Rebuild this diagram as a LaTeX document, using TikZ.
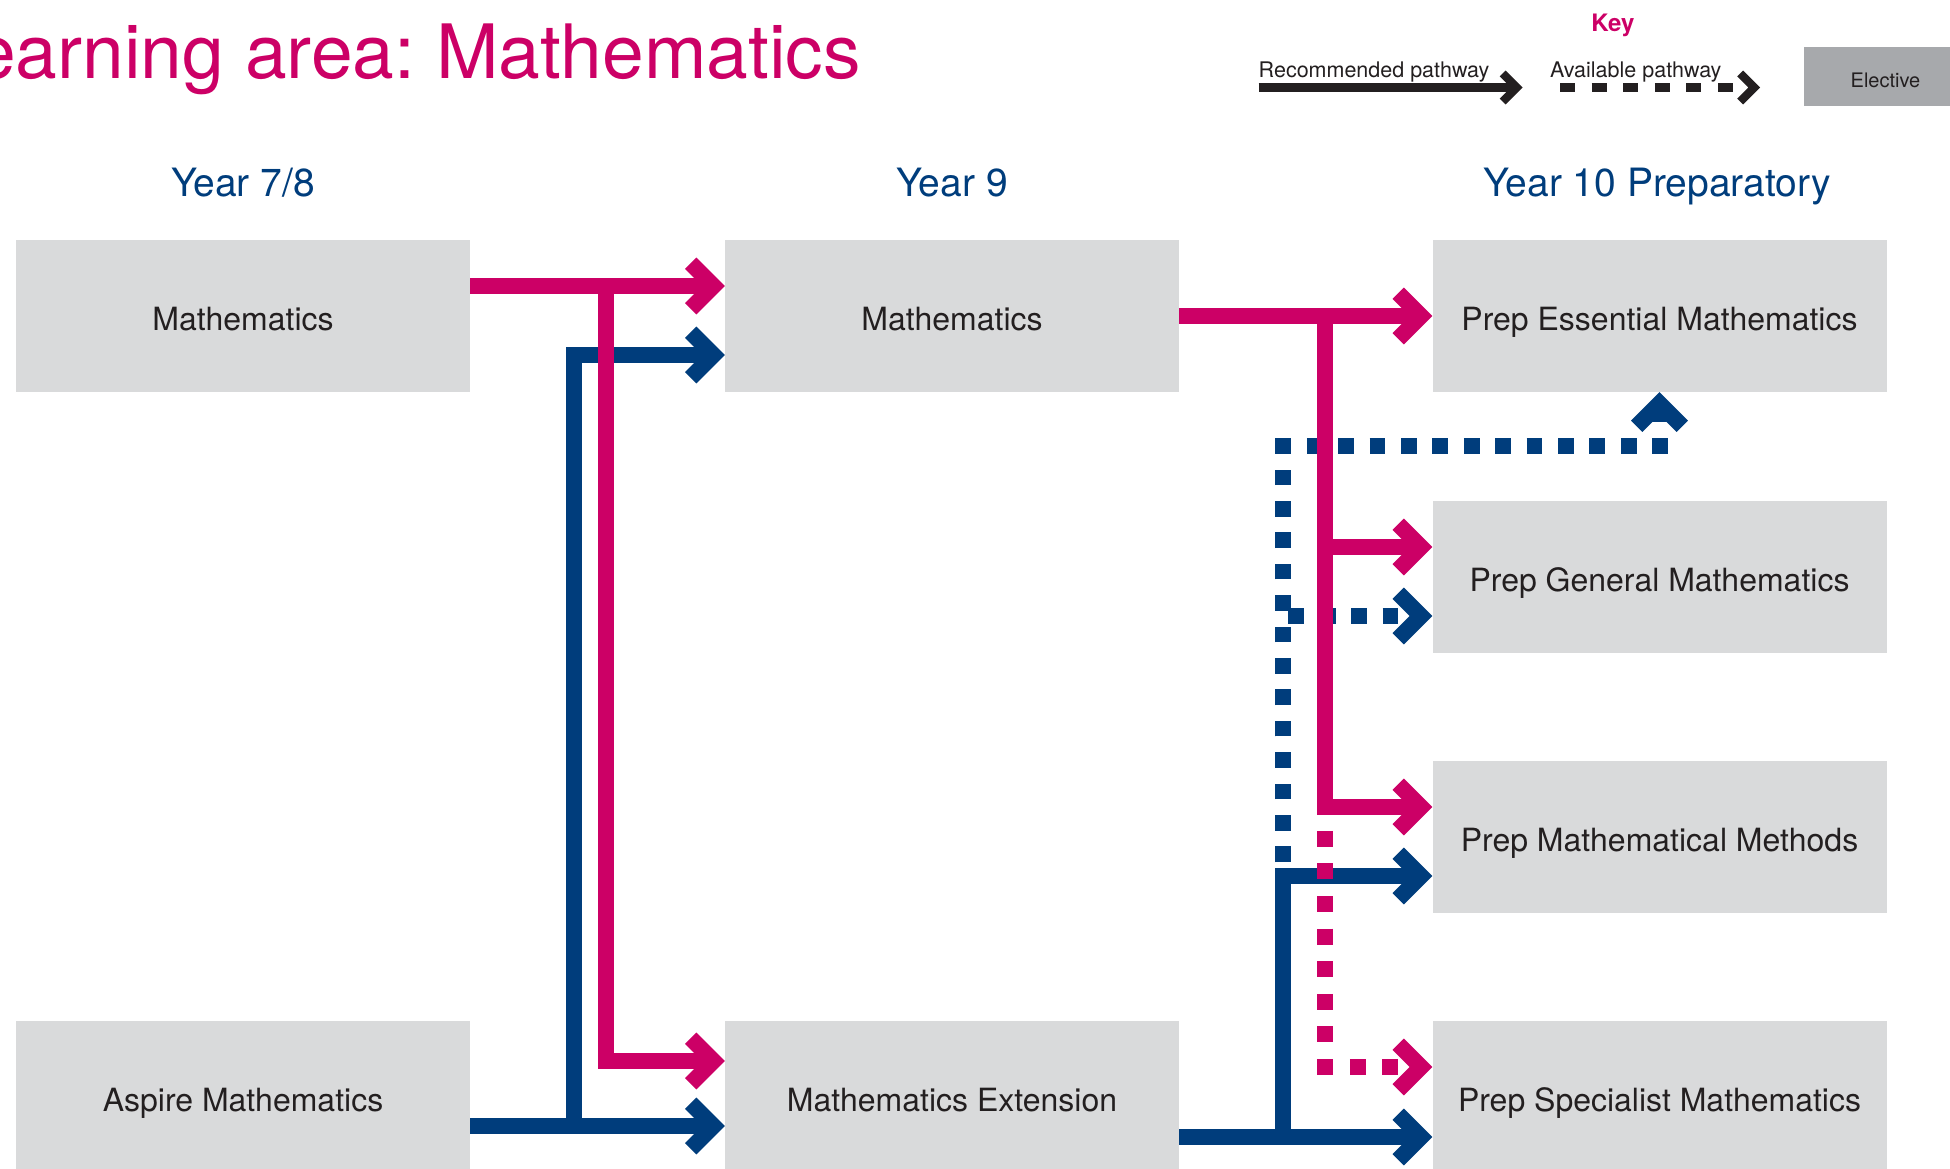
\documentclass[tikz,border=0pt]{standalone}
\usepackage{fontspec}
\setmainfont{TeX Gyre Heros}
\usepackage{tikz}
\usetikzlibrary{arrows.meta}
\definecolor{mpink}{HTML}{CC0066}
\definecolor{mblue}{HTML}{003D7C}
\definecolor{mtext}{HTML}{231F20}
\definecolor{mbox}{HTML}{D9DADB}
\definecolor{melect}{HTML}{A7A9AC}
\tikzset{course/.style={rectangle, fill=mbox, text=mtext, minimum width=454pt, minimum height=152pt, inner sep=0pt, text height=30.5pt, text depth=0.6pt, font=\fontsize{32}{38}\selectfont}}
\tikzset{heading/.style={anchor=base, inner sep=0pt, text=mblue, font=\fontsize{39}{45}\selectfont}}
\tikzset{keytext/.style={anchor=base west, inner sep=0pt, text=mtext, font=\fontsize{21.5}{25}\selectfont}}
\tikzset{pathway/.style={line width=16pt, -{Straight Barb[length=22.8pt, width=45.6pt, sharp]}}}
\tikzset{dotted pathway/.style={pathway, dash pattern=on 15.7pt off 15.7pt}}

\begin{document}
\frenchspacing
\begin{tikzpicture}[x=1pt,y=-1pt]
  \useasboundingbox (0,0) rectangle (1950,1168);
  % title and key
  \node[anchor=base east, inner sep=0pt, text=mpink, font=\fontsize{75}{80}\selectfont] (title) at (861,78) {Learning area: Mathematics};
  \node[anchor=base, inner sep=0pt, text=mpink, font=\bfseries\fontsize{24}{28}\selectfont] (key) at (1613,31.7) {Key};
  \node[keytext] (rec) at (1258.5,77) {Recommended pathway};
  \node[keytext] (avl) at (1550,77) {Available pathway};
  \node[fill=melect, text=mtext, inner sep=0pt, minimum width=163pt, minimum height=59pt, text height=21pt, text depth=0pt, font=\fontsize{20}{24}\selectfont] (elect) at (1885.5,76.5) {Elective};
  \draw[mtext, line width=8.3pt, -{Straight Barb[length=14pt, width=28pt, sharp]}] ([yshift=-10.5pt]rec.base west) -- ++(264,0);
  \draw[mtext, line width=8.3pt, dash pattern=on 15pt off 16.6pt, -{Straight Barb[length=14pt, width=28pt, sharp]}] ([xshift=10pt,yshift=-10.5pt]avl.base west) -- ++(200,0);

  % year headings
  \node[heading] (h78) at (243,196.7) {Year 7/8};
  \node[heading] (h9) at (952,196.7) {Year 9};
  \node[heading] (h10) at (1657,196.7) {Year 10 Preparatory};

  \foreach \x/\y/\lab/\txt in {
    243/316/m78/Mathematics,
    243/1097/asp/Aspire Mathematics,
    952/316/m9/Mathematics,
    952/1097/ext/Mathematics Extension,
    1659.5/316/ess/Prep Essential Mathematics,
    1659.5/577/gen/Prep General Mathematics,
    1659.5/837/meth/Prep Mathematical Methods,
    1659.5/1097/spec/Prep Specialist Mathematics%
  } {
    \node[course] (\lab) at (\x, \y) {\txt};
  }

  % blue pathways
  \begin{scope}[mblue]
    \draw[dotted pathway, dash phase=29.2pt] ([yshift=-40pt]ext.east) -- ++(104,0) -- ++(0,-691) -| (ess.south);
    \draw[dotted pathway, dash phase=29.2pt] ([yshift=-40pt]ext.east) -- ++(104,0) |- ([yshift=-39pt]gen.west);
    \draw[pathway] ([yshift=-40pt]ext.east) -- ++(104,0) |- ([yshift=-39pt]meth.west);
    \draw[pathway] ([yshift=-40pt]ext.east) -- ([yshift=-40pt]spec.west);
    \draw[pathway] ([yshift=-29pt]asp.east) -- ([yshift=-29pt]ext.west);
    \draw[pathway] ([yshift=-29pt]asp.east) -- ++(103.7,0) |- ([yshift=-39pt]m9.west);
  \end{scope}

  % pink pathways
  \begin{scope}[mpink]
    \draw[dotted pathway, dash pattern=on 16pt off 16.6pt, dash phase=23.8pt] (m9.east) -- ++(146,0) |- ([yshift=30pt]spec.west);
    \draw[pathway] (m9.east) -- (ess.west);
    \foreach \v in {gen, meth} {
      \draw[pathway] (m9.east) -- ++(146,0) |- ([yshift=30pt]\v.west);
    }
    \draw[pathway] ([yshift=30pt]m78.east) -- ([yshift=30pt]m9.west);
    \draw[pathway] ([yshift=30pt]m78.east) -- ++(135.5,0) |- ([yshift=36pt]ext.west);
  \end{scope}
\end{tikzpicture}
\end{document}
